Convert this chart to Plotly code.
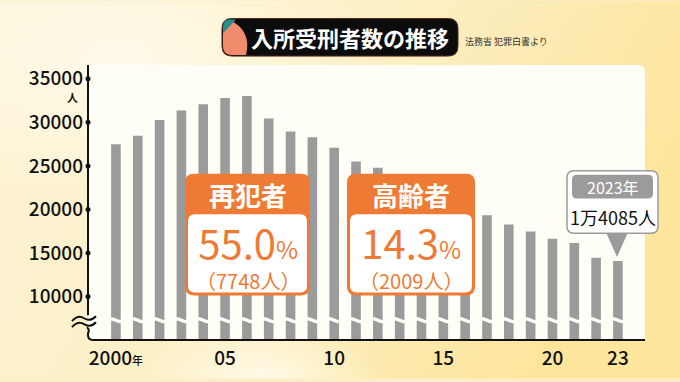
import base64
import plotly.graph_objects as go

# ---------------- data ----------------
years = list(range(2000, 2024))
inmates = [27498, 28469, 30277, 31355, 32090, 32789, 33032, 30450, 28963, 28293,
           27079, 25499, 24780, 22755, 21866, 21539, 20467, 19336, 18272, 17464,
           16620, 16152, 14460, 14085]
x_tick_vals = [2000, 2005, 2010, 2015, 2020, 2023]
x_tick_text = ["2000<span style='font-size:11px'>年</span>", "05", "10", "15", "20", "23"]
y_tick_vals = [10000, 15000, 20000, 25000, 30000, 35000]
y_tick_text = ["10000", "15000", "20000", "25000", "30000", "35000"]
title_text = "入所受刑者数の推移"
source_text = "法務省 犯罪白書より"
box_titles = ["再犯者", "高齢者"]
box_rates = ["55.0", "14.3"]
box_counts = ["7748", "2009"]
last_year_label = "2023年"
last_value_label = "1万4085人"

# ---------------- layout helpers (pixel -> paper) ----------------
W, H = 680, 382
PL, PR, PT, PB = 88, 645, 65, 343
FONT = "Noto Sans CJK JP"
ORANGE = "#ef7a34"
GRAY = "#9b9b9b"


def fx(px):
    return (px - PL) / (PR - PL)


def fy(py):
    return (PB - py) / (PB - PT)


def P(px, py):
    return f"{fx(px):.5f},{fy(py):.5f}"


def rrect(x0, y0, x1, y1, r):
    return (f"M{P(x0 + r, y0)} L{P(x1 - r, y0)} Q{P(x1, y0)} {P(x1, y0 + r)} "
            f"L{P(x1, y1 - r)} Q{P(x1, y1)} {P(x1 - r, y1)} L{P(x0 + r, y1)} "
            f"Q{P(x0, y1)} {P(x0, y1 - r)} L{P(x0, y0 + r)} Q{P(x0, y0)} {P(x0 + r, y0)} Z")


shapes = []
annotations = []


def add_path(path, fill=None, line_color=None, line_width=0, layer="above"):
    shapes.append(dict(type="path", xref="paper", yref="paper", path=path,
                       fillcolor=fill if fill else "rgba(0,0,0,0)",
                       line=dict(color=line_color if line_color else "rgba(0,0,0,0)",
                                 width=line_width),
                       layer=layer))


def add_text(px, py, text, size, color, bold=False, xanchor="center"):
    annotations.append(dict(xref="paper", yref="paper", x=fx(px), y=fy(py), text=text,
                            showarrow=False, xanchor=xanchor, yanchor="middle",
                            font=dict(family=FONT, size=size, color=color,
                                      weight="bold" if bold else "normal")))


# ---------------- background gradient ----------------
svg = f"""<svg xmlns='http://www.w3.org/2000/svg' width='{W}' height='{H}'>
<defs>
<linearGradient id='g' x1='0' y1='0' x2='1' y2='0.35'>
<stop offset='0' stop-color='#fcf3d7'/>
<stop offset='0.55' stop-color='#fcefc4'/>
<stop offset='1' stop-color='#fde59c'/>
</linearGradient>
<radialGradient id='r' cx='0.5' cy='0.5' r='0.5'>
<stop offset='0' stop-color='#fffbea' stop-opacity='0.95'/>
<stop offset='1' stop-color='#fffbea' stop-opacity='0'/>
</radialGradient>
</defs>
<rect width='{W}' height='{H}' fill='url(#g)'/>
<ellipse cx='120' cy='60' rx='260' ry='150' fill='url(#r)'/>
<ellipse cx='260' cy='382' rx='120' ry='60' fill='url(#r)'/>
</svg>"""
bg_src = "data:image/svg+xml;base64," + base64.b64encode(svg.encode()).decode()

# ---------------- panel ----------------
add_path(f"M{P(PL, PT)} L{P(PR - 7, PT)} Q{P(PR, PT)} {P(PR, PT + 7)} L{P(PR, PB)} L{P(PL, PB)} Z",
         fill="#fefdf6", layer="below")

# wavy break across the bars
x_left_data = 1998.72
x_right_data = 2024.24
wave_y = 323
wave = f"M{fx(PL + 8):.5f},{fy(wave_y):.5f}"
step = (PR - PL) / (x_right_data - x_left_data)
for yr in years:
    cx = PL + (yr - x_left_data) * step
    wave += f" Q{P(cx - 5.5, wave_y - 3)} {P(cx, wave_y)} Q{P(cx + 5.5, wave_y + 3)} {P(cx + 10.9, wave_y)}"
add_path(wave, line_color="#fefdf6", line_width=3.5)

# axis lines with break
add_path(f"M{P(PL, PT)} L{P(PL, 318)}", line_color="#111111", line_width=2)
add_path(f"M{P(87, 330)} Q{P(90, 333)} {P(88, 336)} L{P(88, PB - 5)} Q{P(88, PB)} {P(93, PB)} L{P(PR, PB)}",
         line_color="#111111", line_width=2)
add_path(f"M{P(72, 324)} Q{P(78, 317)} {P(84, 321)} Q{P(90, 325)} {P(96, 319)}",
         line_color="#111111", line_width=2)
add_path(f"M{P(72, 330)} Q{P(78, 323)} {P(84, 327)} Q{P(90, 331)} {P(96, 325)}",
         line_color="#111111", line_width=2)
add_text(72, 97, "人", 11, "#111111", bold=True)

# ---------------- title ----------------
add_path(rrect(222, 18, 458, 56, 10), fill="#0c0c0c", line_color="#5a2a20", line_width=1)
add_path(f"M{P(229, 19)} Q{P(252, 30)} {P(246, 55)} L{P(232, 55)} Q{P(223, 55)} {P(223, 46)} "
         f"L{P(223, 28)} Z", fill="#f08c6c")
add_path(f"M{P(223, 33)} L{P(223, 26)} Q{P(223, 19)} {P(230, 19)} L{P(236, 19)} Z", fill="#2b8e8c")
add_text(350, 37, title_text, 22, "#ffffff", bold=True)
add_text(463, 41, source_text, 9, "#333333", xanchor="left")

# ---------------- callout boxes ----------------
for (bx0, bx1), t, rate, cnt in zip([(185, 310), (347, 475)], box_titles, box_rates, box_counts):
    add_path(rrect(bx0, 175, bx1, 298, 9), fill=ORANGE)
    add_path(rrect(bx0 + 3, 216, bx1 - 3, 295, 7), fill="#ffffff")
    cx = (bx0 + bx1) / 2
    add_text(cx, 196, t, 26, "#ffffff", bold=True)
    add_text(cx, 256, f"<span style='font-size:40px'>{rate}</span>"
                      f"<span style='font-size:24px'>%</span><br>"
                      f"<span style='font-size:20px'>（{cnt}人）</span>", 23, ORANGE)

# 2023 callout
add_path(f"M{P(606, 234)} L{P(628, 234)} L{P(617, 259)} Z", fill=GRAY)
add_path(rrect(567, 172, 658, 235, 7), fill="#ffffff", line_color=GRAY, line_width=1.5)
add_path(rrect(572, 176, 653, 200, 5), fill=GRAY)
add_text(612.5, 188, last_year_label, 16, "#ffffff")
add_text(613, 219, last_value_label, 18, "#111111")

# ---------------- figure ----------------
fig = go.Figure()
fig.add_trace(go.Bar(x=years, y=inmates, marker=dict(color=GRAY, line=dict(width=0)),
                     width=0.44, hoverinfo="skip"))
fig.add_trace(go.Scatter(x=[x_left_data] * len(y_tick_vals), y=y_tick_vals, mode="markers",
                         marker=dict(color="#111111", size=5), cliponaxis=False,
                         hoverinfo="skip"))

fig.update_layout(
    width=W, height=H,
    margin=dict(l=PL, r=W - PR, t=PT, b=H - PB, pad=0),
    paper_bgcolor="#fcefc6",
    plot_bgcolor="rgba(0,0,0,0)",
    showlegend=False,
    font=dict(family=FONT, color="#111111"),
    shapes=shapes,
    annotations=annotations,
    images=[dict(source=bg_src, xref="paper", yref="paper", x=fx(0), y=fy(0),
                 sizex=W / (PR - PL), sizey=H / (PB - PT), xanchor="left", yanchor="top",
                 sizing="stretch", layer="below")],
    xaxis=dict(range=[x_left_data, x_right_data], tickvals=x_tick_vals, ticktext=x_tick_text,
               showgrid=False, zeroline=False, showline=False, ticks="",
               ticklabelstandoff=5, fixedrange=True,
               tickfont=dict(family=FONT, size=19, color="#111111", weight=500)),
    yaxis=dict(range=[5000, 36590], tickvals=y_tick_vals, ticktext=y_tick_text,
               showgrid=False, zeroline=False, showline=False, ticks="",
               ticklabelstandoff=4, fixedrange=True,
               tickfont=dict(family=FONT, size=19, color="#111111", weight=500)),
)

fig.write_html("out.html", config={"displayModeBar": False},
               post_script="document.body.style.margin='0';document.body.style.padding='0';")
